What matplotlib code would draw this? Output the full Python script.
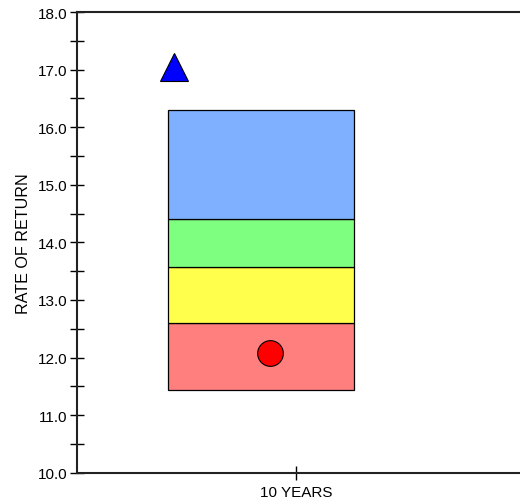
import matplotlib.pyplot as plt
import numpy as np
from matplotlib.ticker import FormatStrFormatter, MultipleLocator

plt.rcParams["font.family"] = ["Liberation Sans", "DejaVu Sans"]

# band edges (rate of return), bottom to top
band_edges = [11.44, 12.60, 13.57, 14.40, 16.30]
band_colors = ["#FF7F7F", "#FFFF4C", "#7FFF7F", "#7FAFFF"]
period_labels = ["10 YEARS"]
circle_value = [12.08]
triangle_value = [17.04]

fig = plt.figure(figsize=(5.2, 5.02), dpi=100)
ax = fig.add_axes([77 / 520, 28.3 / 502, 443 / 520, 460.7 / 502])

box_center = -0.1585
box_width = 0.849
bottoms = np.array(band_edges[:-1])
heights = np.diff(band_edges)
ax.bar([box_center] * len(heights), heights, bottom=bottoms, width=box_width,
       color=band_colors, edgecolor="black", linewidth=0.9, zorder=2)

ax.plot([-0.12], circle_value, marker="o", markersize=18.5, color="#FF0000",
        markeredgecolor="black", markeredgewidth=0.8, linestyle="none", zorder=3)
ax.plot([-0.558], triangle_value, marker="^", markersize=19.5, color="#0000FF",
        markeredgecolor="black", markeredgewidth=0.8, linestyle="none", zorder=3)

ax.set_xlim(-1, 1.023)
ax.set_ylim(10, 18)
ax.set_xticks([0], labels=period_labels)
ax.yaxis.set_major_locator(MultipleLocator(1))
ax.yaxis.set_minor_locator(MultipleLocator(0.5))
ax.yaxis.set_major_formatter(FormatStrFormatter("%.1f"))

ax.tick_params(axis="both", which="both", direction="inout", length=10,
               width=1.0, labelsize=11, colors="black")
ax.tick_params(axis="y", pad=2)
ax.tick_params(axis="x", pad=4)

ax.spines["right"].set_visible(False)
for side in ["left", "bottom", "top"]:
    ax.spines[side].set_linewidth(1.5)
    ax.spines[side].set_color("#222222")

ax.set_ylabel("RATE OF RETURN", fontsize=11.6)
ax.yaxis.set_label_coords(-0.103, 0.5)

fig.savefig("out.png", dpi=100)
